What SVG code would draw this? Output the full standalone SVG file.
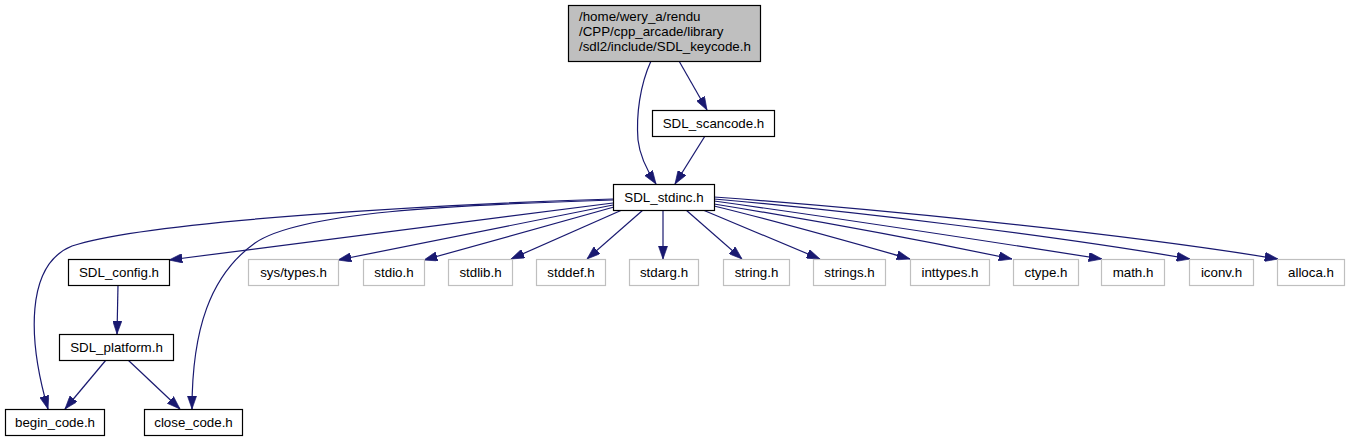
<svg xmlns="http://www.w3.org/2000/svg" width="1349" height="440" viewBox="0 0 1349 440">
<defs>
<style>
.n rect{fill:#ffffff;stroke:#000000;stroke-width:1.2}
.g rect{fill:#ffffff;stroke:#bfbfbf;stroke-width:1.2}
.root rect{fill:#bfbfbf;stroke:#000000;stroke-width:1.2}
text{font-family:"Liberation Sans",Arial,Helvetica,sans-serif;font-size:13.33px;fill:#000000}
.c text{text-anchor:middle}
#edges path{fill:none;stroke:#191970;stroke-width:1.2;marker-end:url(#ah)}
</style>
<marker id="ah" markerUnits="userSpaceOnUse" markerWidth="13.3" markerHeight="9.3" refX="10" refY="3.5" orient="auto" viewBox="0 0 10 7">
<path d="M0,0 L10,3.5 L0,7 z" fill="#191970" stroke="#191970" stroke-width="0.5"/>
</marker>
</defs>
<rect width="1349" height="440" fill="#ffffff"/>
<g id="edges">
<path d="M651,61 C640,85 636,115 638,140 C640,158 648,172 656,184"/>
<path d="M679,61 L707,110"/>
<path d="M705,136 L675,184"/>
<path d="M613,199 C450,204 150,220 72,246 C25,265 28,340 48,409"/>
<path d="M613,200 C450,205 300,212 255,243 C210,275 192,330 192,409"/>
<path d="M613,203 L169,260"/>
<path d="M613,205 L338,260"/>
<path d="M614,207 L424,260"/>
<path d="M622,210 L511,259"/>
<path d="M643,210 L587,259"/>
<path d="M663,210 L663,259"/>
<path d="M686,210 L742,259"/>
<path d="M703,210 L820,259"/>
<path d="M714,206 C780,222 850,242 910,259"/>
<path d="M714,204 C800,218 920,240 1012,259"/>
<path d="M714,201 C830,217 980,240 1102,259"/>
<path d="M714,199 C850,211 1050,235 1190,259"/>
<path d="M714,197 C850,207 1100,230 1278,259"/>
<path d="M118,285 L117,334"/>
<path d="M106,360 L65,409"/>
<path d="M128,360 L180,409"/>
</g>
<g id="n_keycode" class="root"><rect x="568.5" y="5.5" width="192" height="56"/>
<text x="579" y="20.5">/home/wery_a/rendu</text><text x="579" y="35.5">/CPP/cpp_arcade/library</text><text x="579" y="50.5">/sdl2/include/SDL_keycode.h</text></g>
<g id="n_scancode" class="n c"><rect x="652.5" y="110.5" width="122" height="26"/><text x="713.5" y="127.5">SDL_scancode.h</text></g>
<g id="n_stdinc" class="n c"><rect x="613.5" y="184.5" width="101" height="26"/><text x="664" y="201.5">SDL_stdinc.h</text></g>
<g id="n_config" class="n c"><rect x="68.5" y="259.5" width="101" height="26"/><text x="119" y="276.5">SDL_config.h</text></g>
<g id="n_systypes" class="g c"><rect x="248.5" y="259.5" width="90" height="26"/><text x="293.5" y="276.5">sys/types.h</text></g>
<g id="n_stdio" class="g c"><rect x="363.5" y="259.5" width="61" height="26"/><text x="394" y="276.5">stdio.h</text></g>
<g id="n_stdlib" class="g c"><rect x="448.5" y="259.5" width="64" height="26"/><text x="480.5" y="276.5">stdlib.h</text></g>
<g id="n_stddef" class="g c"><rect x="536.5" y="259.5" width="69" height="26"/><text x="571" y="276.5">stddef.h</text></g>
<g id="n_stdarg" class="g c"><rect x="629.5" y="259.5" width="69" height="26"/><text x="664" y="276.5">stdarg.h</text></g>
<g id="n_string" class="g c"><rect x="723.5" y="259.5" width="66" height="26"/><text x="756.5" y="276.5">string.h</text></g>
<g id="n_strings" class="g c"><rect x="813.5" y="259.5" width="72" height="26"/><text x="849.5" y="276.5">strings.h</text></g>
<g id="n_inttypes" class="g c"><rect x="910.5" y="259.5" width="79" height="26"/><text x="950" y="276.5">inttypes.h</text></g>
<g id="n_ctype" class="g c"><rect x="1013.5" y="259.5" width="65" height="26"/><text x="1046" y="276.5">ctype.h</text></g>
<g id="n_math" class="g c"><rect x="1101.5" y="259.5" width="63" height="26"/><text x="1133" y="276.5">math.h</text></g>
<g id="n_iconv" class="g c"><rect x="1189.5" y="259.5" width="64" height="26"/><text x="1221.5" y="276.5">iconv.h</text></g>
<g id="n_alloca" class="g c"><rect x="1277.5" y="259.5" width="67" height="26"/><text x="1311" y="276.5">alloca.h</text></g>
<g id="n_platform" class="n c"><rect x="59.5" y="334.5" width="114" height="26"/><text x="116.5" y="351.5">SDL_platform.h</text></g>
<g id="n_begin" class="n c"><rect x="5.5" y="409.5" width="99" height="26"/><text x="55" y="426.5">begin_code.h</text></g>
<g id="n_close" class="n c"><rect x="144.5" y="409.5" width="98" height="26"/><text x="193.5" y="426.5">close_code.h</text></g>
</svg>
